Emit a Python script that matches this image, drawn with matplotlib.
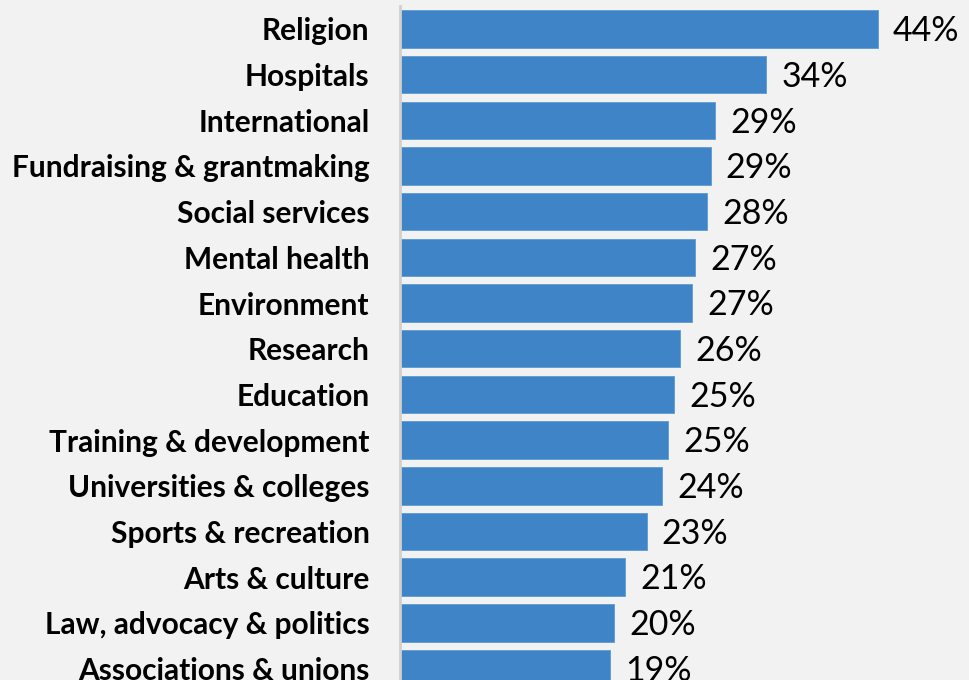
import matplotlib.pyplot as plt

# share of organisations by sector
categories = [
    'Religion', 'Hospitals', 'International', 'Fundraising & grantmaking',
    'Social services', 'Mental health', 'Environment', 'Research',
    'Education', 'Training & development', 'Universities & colleges',
    'Sports & recreation', 'Arts & culture', 'Law, advocacy & politics',
    'Associations & unions',
]
values = [44.0, 33.7, 29.0, 28.6, 28.3, 27.2, 26.9, 25.8,
          25.2, 24.7, 24.1, 22.7, 20.7, 19.7, 19.3]

bg = '#F2F2F2'
bar_color = '#3E84C6'

fig = plt.figure(figsize=(9.7, 6.8), dpi=100, facecolor=bg)
# axes spans from the category column to the right edge
ax = fig.add_axes([400 / 970, 0, 570 / 970, 674 / 680], facecolor=bg)

pos = list(range(len(categories)))
ax.barh(pos, values, height=0.82, color=bar_color, edgecolor='#5B9BD5', linewidth=0.6)

for y, v in zip(pos, values):
    ax.text(v + 1.4, y + 0.05, f'{v:.0f}%', va='center', ha='left',
            fontsize=24.5, family='Lato', color='black')

ax.set_yticks(pos)
ax.set_yticklabels(categories, fontsize=21.5, fontweight='bold', family='Lato')
ax.tick_params(axis='y', length=0, pad=22)
ax.tick_params(axis='x', bottom=False, labelbottom=False)

ax.set_xlim(0, 570 / 10.86)
ax.set_ylim(14.25, -0.5)

for side in ['top', 'right', 'bottom']:
    ax.spines[side].set_visible(False)
ax.spines['left'].set_color('#D0D0D0')
ax.spines['left'].set_linewidth(2)

fig.savefig('out.png', dpi=100, facecolor=bg)
